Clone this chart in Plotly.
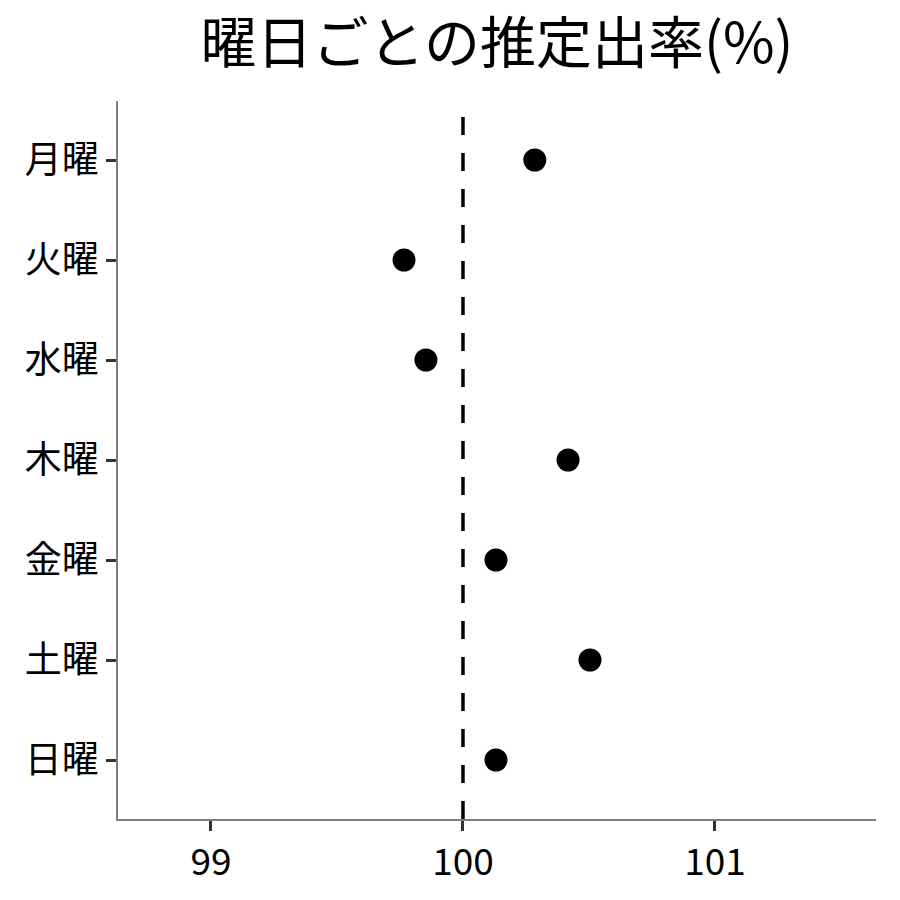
import plotly.graph_objects as go

days = ["月曜", "火曜", "水曜", "木曜", "金曜", "土曜", "日曜"]
rates = [100.285, 99.766, 99.853, 100.417, 100.131, 100.504, 100.131]
x_ticks = [99, 100, 101]
ref_value = 100
title_text = "曜日ごとの推定出率(%)"

FONT = "Noto Sans CJK JP"
OFF = 8  # page body offset

fig = go.Figure()
fig.add_trace(go.Scatter(
    x=rates, y=days, mode="markers",
    marker=dict(size=23, color="black"),
    showlegend=False, hoverinfo="x+y",
))
fig.add_shape(type="line", xref="x", yref="paper",
              x0=ref_value, x1=ref_value, y0=0, y1=1,
              line=dict(color="black", width=3.5, dash="18px,18px"), layer="below")

fig.update_layout(
    width=900, height=900,
    margin=dict(l=118 - OFF, r=24 + OFF, t=101 - OFF, b=81 + OFF),
    paper_bgcolor="white", plot_bgcolor="white",
    font=dict(family=FONT, color="black"),
    title=dict(text=title_text, x=((118 + 876) / 2 - OFF) / 900, xanchor="center",
               y=1 - (43 - OFF) / 900, yanchor="middle",
               font=dict(family=FONT, size=56, color="black")),
)
fig.update_xaxes(
    range=[98.631, 101.639], tickvals=x_ticks, ticktext=[str(v) for v in x_ticks],
    showgrid=False, zeroline=False,
    showline=True, linecolor="#7f7f7f", linewidth=1.5,
    ticks="outside", ticklen=10, tickwidth=3, tickcolor="#333333",
    tickfont=dict(family=FONT, size=37, color="black"),
)
fig.update_yaxes(
    categoryorder="array", categoryarray=days,
    range=[6.59, -0.59],
    showgrid=False, zeroline=False,
    showline=True, linecolor="#7f7f7f", linewidth=1.5,
    ticks="outside", ticklen=10, tickwidth=3, tickcolor="#333333",
    tickfont=dict(family=FONT, size=37, color="black"),
)

fig.write_html("out.html")
